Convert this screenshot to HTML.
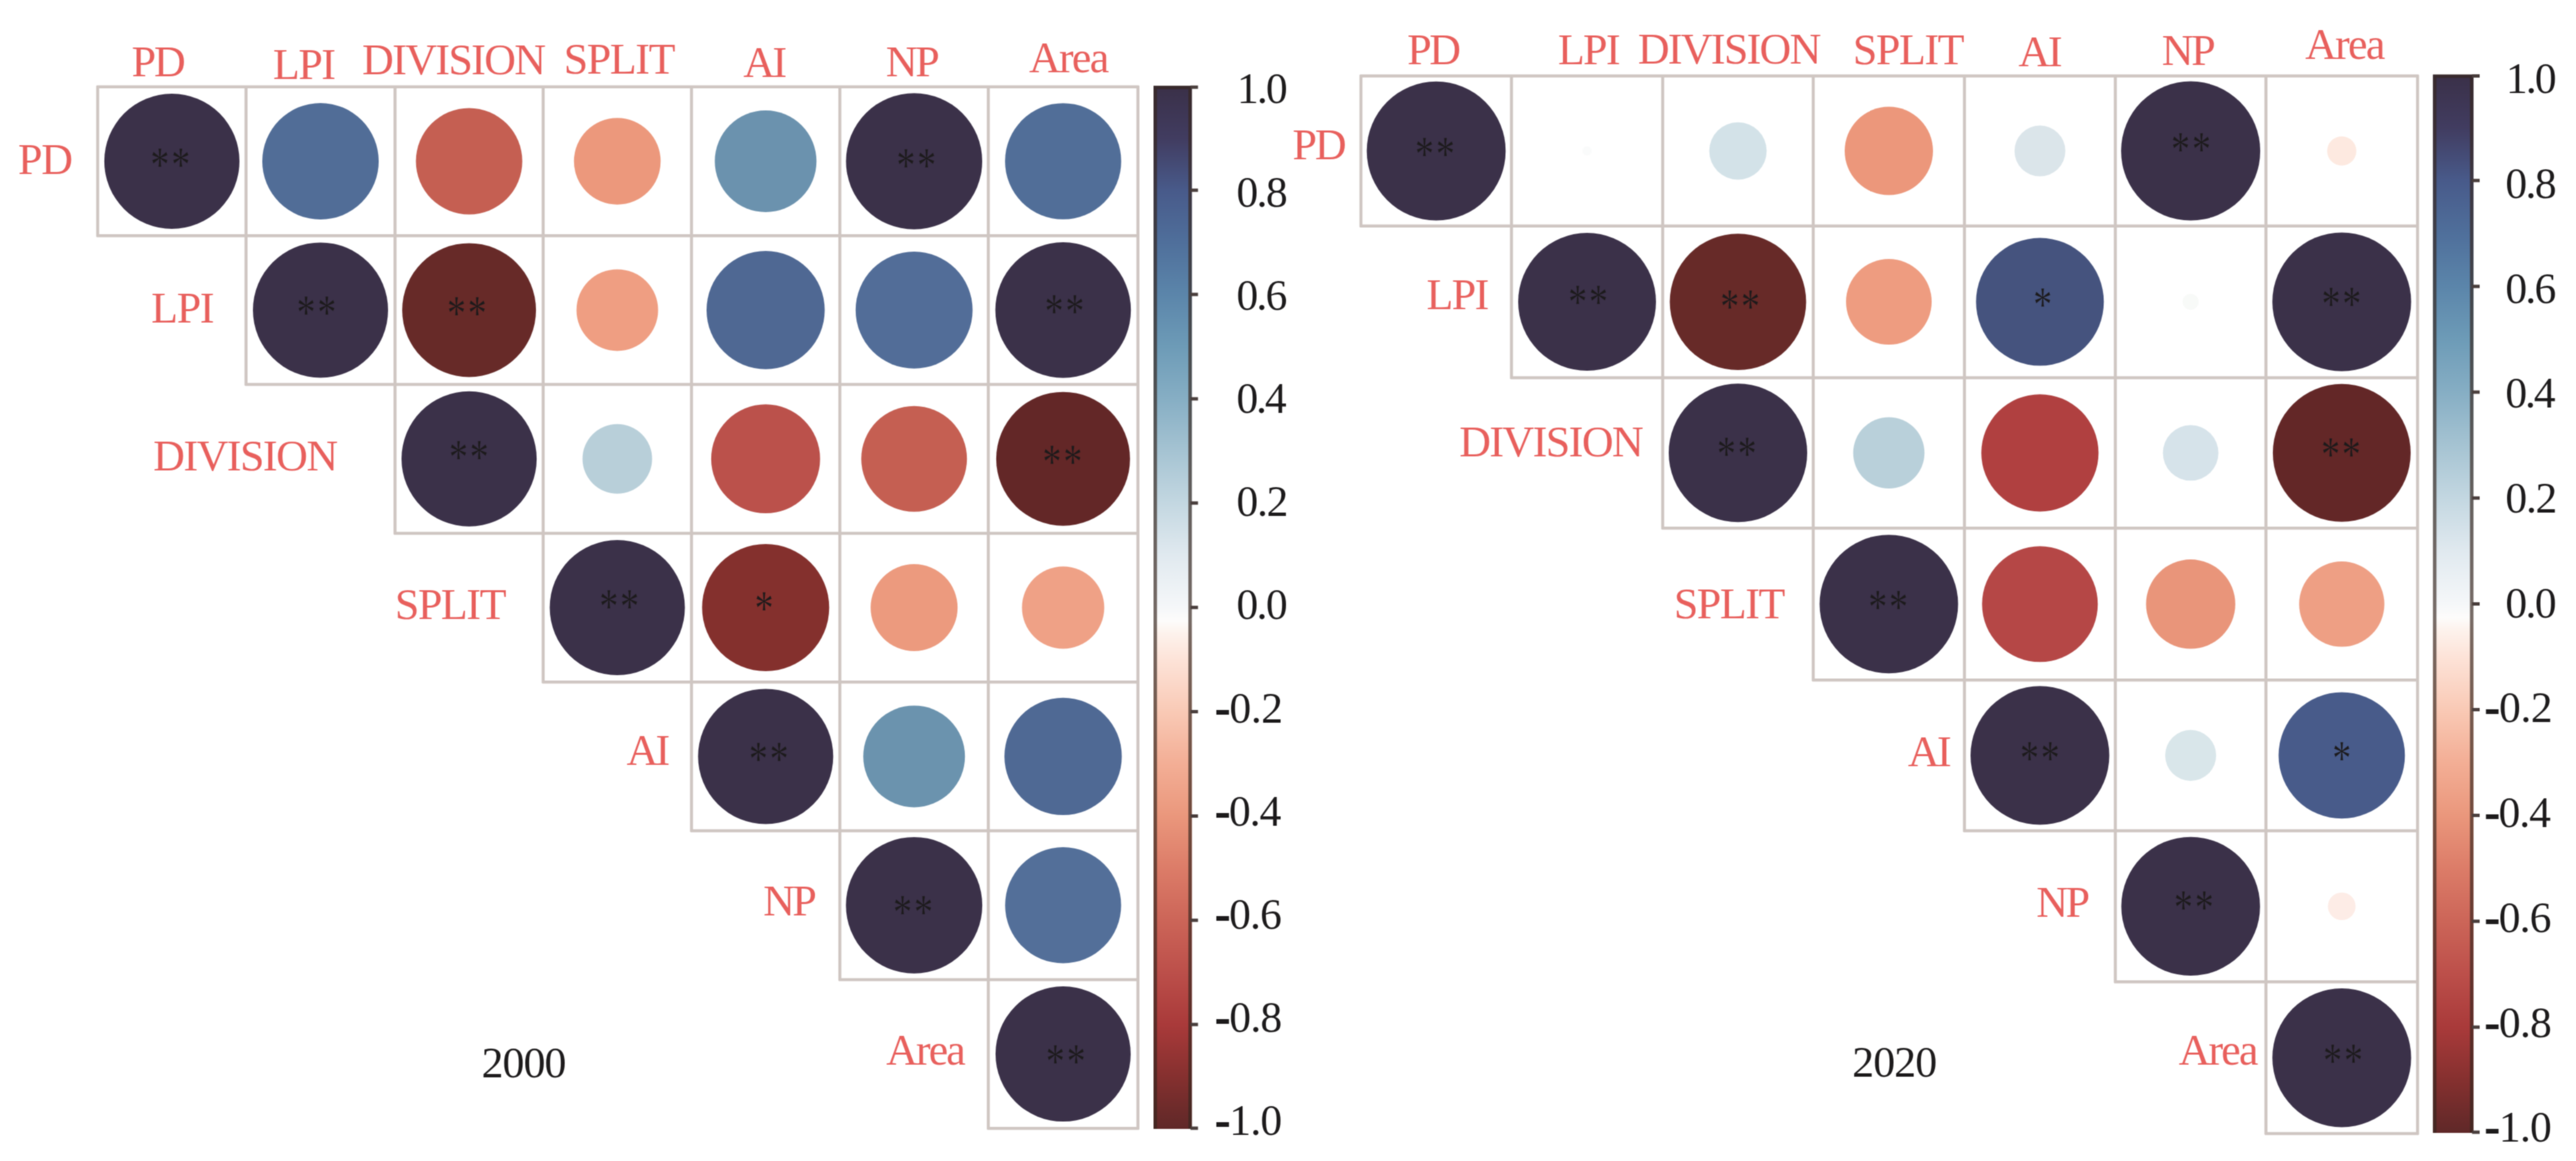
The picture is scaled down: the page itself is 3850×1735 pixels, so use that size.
<!DOCTYPE html>
<html lang="en"><head><meta charset="utf-8"><title>Correlation matrices 2000 / 2020</title>
<style>
html,body{margin:0;padding:0;background:#fff;}
body{width:3850px;height:1735px;overflow:hidden;}
svg{display:block;font-kerning:none;font-family:"Liberation Serif",serif;}
</style></head><body>
<svg width="3850" height="1735" viewBox="0 0 3850 1735">
<defs><linearGradient id="cb" x1="0" y1="0" x2="0" y2="1"><stop offset="0%" stop-color="#3a3048"/><stop offset="5%" stop-color="#413c60"/><stop offset="10%" stop-color="#485a8a"/><stop offset="15%" stop-color="#4f6f9b"/><stop offset="20%" stop-color="#5b85aa"/><stop offset="25%" stop-color="#6d9bb7"/><stop offset="30%" stop-color="#86aec4"/><stop offset="35%" stop-color="#a5c3d2"/><stop offset="40%" stop-color="#c3d7e1"/><stop offset="45%" stop-color="#e0e9ef"/><stop offset="50%" stop-color="#f5f7f9"/><stop offset="51.3%" stop-color="#fdfcfb"/><stop offset="52.5%" stop-color="#fdf2ec"/><stop offset="55%" stop-color="#fde3d8"/><stop offset="60%" stop-color="#f9c9b5"/><stop offset="65%" stop-color="#f3ae95"/><stop offset="70%" stop-color="#ea977c"/><stop offset="75%" stop-color="#dc7c68"/><stop offset="80%" stop-color="#cc6558"/><stop offset="85%" stop-color="#bc4f4a"/><stop offset="90%" stop-color="#a93a3a"/><stop offset="95%" stop-color="#85302f"/><stop offset="100%" stop-color="#5f2828"/></linearGradient><filter id="soft" filterUnits="userSpaceOnUse" x="0" y="0" width="3850" height="1735" color-interpolation-filters="sRGB"><feConvolveMatrix order="3" kernelMatrix="1 2 1 2 4 2 1 2 1" divisor="16" edgeMode="duplicate" preserveAlpha="true"/></filter></defs>
<g filter="url(#soft)">
<rect width="3850" height="1735" fill="#fff"/>
<path d="M144.5 129.8H1702.2M144.5 352.2H1702.2M366.2 574.5H1702.2M588.9 796.9H1702.2M810.3 1019.2H1702.2M1032.0 1241.6H1702.2M1253.7 1463.9H1702.2M1475.6 1686.3H1702.2M146.0 128.3V353.7M367.7 128.3V576.0M590.4 128.3V798.4M811.8 128.3V1020.7M1033.5 128.3V1243.1M1255.2 128.3V1465.4M1477.1 128.3V1687.8M1700.7 128.3V1687.8" fill="none" stroke="#cfc6c2" stroke-width="4.5"/>
<circle cx="256.9" cy="241.0" r="101" fill="#3b3149"/>
<text transform="translate(238.9 236.7) scale(0.9 1.17)" x="-15.75" y="29.7" font-size="63" fill="#1c1a1b" stroke="#3b3149" stroke-width="0.5">*</text>
<text transform="translate(270.1 236.7) scale(0.9 1.17)" x="-15.75" y="29.7" font-size="63" fill="#1c1a1b" stroke="#3b3149" stroke-width="0.5">*</text>
<circle cx="479.0" cy="241.0" r="87" fill="#516d97"/>
<circle cx="701.1" cy="241.0" r="79.5" fill="#c55f52"/>
<circle cx="922.6" cy="241.0" r="64.8" fill="#ec987c"/>
<circle cx="1144.3" cy="241.0" r="76" fill="#6b92ae"/>
<circle cx="1366.2" cy="241.0" r="101.8" fill="#3b3149"/>
<text transform="translate(1354.0 237.0) scale(0.9 1.17)" x="-15.75" y="29.7" font-size="63" fill="#1c1a1b" stroke="#3b3149" stroke-width="0.5">*</text>
<text transform="translate(1385.0 237.0) scale(0.9 1.17)" x="-15.75" y="29.7" font-size="63" fill="#1c1a1b" stroke="#3b3149" stroke-width="0.5">*</text>
<circle cx="1588.9" cy="241.0" r="86.8" fill="#516e98"/>
<circle cx="479.0" cy="463.4" r="101" fill="#3b3149"/>
<text transform="translate(457.3 456.8) scale(0.9 1.17)" x="-15.75" y="29.7" font-size="63" fill="#1c1a1b" stroke="#3b3149" stroke-width="0.5">*</text>
<text transform="translate(488.4 456.8) scale(0.9 1.17)" x="-15.75" y="29.7" font-size="63" fill="#1c1a1b" stroke="#3b3149" stroke-width="0.5">*</text>
<circle cx="701.1" cy="463.4" r="100" fill="#672a28"/>
<text transform="translate(682.2 457.9) scale(0.9 1.17)" x="-15.75" y="29.7" font-size="63" fill="#1c1a1b" stroke="#672a28" stroke-width="0.5">*</text>
<text transform="translate(713.2 457.9) scale(0.9 1.17)" x="-15.75" y="29.7" font-size="63" fill="#1c1a1b" stroke="#672a28" stroke-width="0.5">*</text>
<circle cx="922.6" cy="463.4" r="61" fill="#ef9e82"/>
<circle cx="1144.3" cy="463.4" r="88.3" fill="#4f6893"/>
<circle cx="1366.2" cy="463.4" r="87.4" fill="#526d98"/>
<circle cx="1588.9" cy="463.4" r="101.3" fill="#3b3149"/>
<text transform="translate(1575.5 455.0) scale(0.9 1.17)" x="-15.75" y="29.7" font-size="63" fill="#1c1a1b" stroke="#3b3149" stroke-width="0.5">*</text>
<text transform="translate(1606.5 455.0) scale(0.9 1.17)" x="-15.75" y="29.7" font-size="63" fill="#1c1a1b" stroke="#3b3149" stroke-width="0.5">*</text>
<circle cx="701.1" cy="685.7" r="101" fill="#3b3149"/>
<text transform="translate(685.2 673.6) scale(0.9 1.17)" x="-15.75" y="29.7" font-size="63" fill="#1c1a1b" stroke="#3b3149" stroke-width="0.5">*</text>
<text transform="translate(716.2 673.6) scale(0.9 1.17)" x="-15.75" y="29.7" font-size="63" fill="#1c1a1b" stroke="#3b3149" stroke-width="0.5">*</text>
<circle cx="922.6" cy="685.7" r="52" fill="#b8cfd9"/>
<circle cx="1144.3" cy="685.7" r="81.4" fill="#bb514b"/>
<circle cx="1366.2" cy="685.7" r="79" fill="#c55f52"/>
<circle cx="1588.9" cy="685.7" r="100" fill="#632727"/>
<text transform="translate(1572.2 680.0) scale(0.9 1.17)" x="-15.75" y="29.7" font-size="63" fill="#1c1a1b" stroke="#632727" stroke-width="0.5">*</text>
<text transform="translate(1603.3 680.0) scale(0.9 1.17)" x="-15.75" y="29.7" font-size="63" fill="#1c1a1b" stroke="#632727" stroke-width="0.5">*</text>
<circle cx="922.6" cy="908.0" r="101" fill="#3b3149"/>
<text transform="translate(910.0 896.7) scale(0.9 1.17)" x="-15.75" y="29.7" font-size="63" fill="#1c1a1b" stroke="#3b3149" stroke-width="0.5">*</text>
<text transform="translate(941.0 896.7) scale(0.9 1.17)" x="-15.75" y="29.7" font-size="63" fill="#1c1a1b" stroke="#3b3149" stroke-width="0.5">*</text>
<circle cx="1144.3" cy="908.0" r="95" fill="#84302d"/>
<text transform="translate(1142.0 899.4) scale(0.9 1.17)" x="-15.75" y="29.7" font-size="63" fill="#1c1a1b" stroke="#84302d" stroke-width="0.5">*</text>
<circle cx="1366.2" cy="908.0" r="65" fill="#ec9a7e"/>
<circle cx="1588.9" cy="908.0" r="61.5" fill="#efa186"/>
<circle cx="1144.3" cy="1130.4" r="101" fill="#3b3149"/>
<text transform="translate(1133.5 1124.6) scale(0.9 1.17)" x="-15.75" y="29.7" font-size="63" fill="#1c1a1b" stroke="#3b3149" stroke-width="0.5">*</text>
<text transform="translate(1164.5 1124.6) scale(0.9 1.17)" x="-15.75" y="29.7" font-size="63" fill="#1c1a1b" stroke="#3b3149" stroke-width="0.5">*</text>
<circle cx="1366.2" cy="1130.4" r="76" fill="#6b93ae"/>
<circle cx="1588.9" cy="1130.4" r="87.7" fill="#4f6994"/>
<circle cx="1366.2" cy="1352.8" r="101.9" fill="#3b3149"/>
<text transform="translate(1349.0 1353.7) scale(0.9 1.17)" x="-15.75" y="29.7" font-size="63" fill="#1c1a1b" stroke="#3b3149" stroke-width="0.5">*</text>
<text transform="translate(1380.1 1353.7) scale(0.9 1.17)" x="-15.75" y="29.7" font-size="63" fill="#1c1a1b" stroke="#3b3149" stroke-width="0.5">*</text>
<circle cx="1588.9" cy="1352.8" r="86.7" fill="#536f99"/>
<circle cx="1588.9" cy="1575.1" r="101" fill="#3b3149"/>
<text transform="translate(1577.2 1576.3) scale(0.9 1.17)" x="-15.75" y="29.7" font-size="63" fill="#1c1a1b" stroke="#3b3149" stroke-width="0.5">*</text>
<text transform="translate(1608.3 1576.3) scale(0.9 1.17)" x="-15.75" y="29.7" font-size="63" fill="#1c1a1b" stroke="#3b3149" stroke-width="0.5">*</text>
<text x="196.7" y="113.7" font-size="65.5" letter-spacing="-2.85" fill="#e85f5c">PD</text>
<text x="408.0" y="117.8" font-size="65.5" letter-spacing="-2.08" fill="#e85f5c">LPI</text>
<text x="541.3" y="111.0" font-size="65.5" letter-spacing="-2.34" fill="#e85f5c">DIVISION</text>
<text x="842.5" y="110.3" font-size="65.5" letter-spacing="-1.93" fill="#e85f5c">SPLIT</text>
<text x="1111.0" y="115.0" font-size="65.5" letter-spacing="-3.85" fill="#e85f5c">AI</text>
<text x="1324.0" y="114.0" font-size="65.5" letter-spacing="-3.25" fill="#e85f5c">NP</text>
<text x="1538.0" y="107.5" font-size="65.5" letter-spacing="-2.50" fill="#e85f5c">Area</text>
<text x="27.1" y="260.0" font-size="65.5" letter-spacing="-1.75" fill="#e85f5c">PD</text>
<text x="226.1" y="481.7" font-size="65.5" letter-spacing="-1.83" fill="#e85f5c">LPI</text>
<text x="229.0" y="703.1" font-size="65.5" letter-spacing="-2.11" fill="#e85f5c">DIVISION</text>
<text x="590.2" y="925.1" font-size="65.5" letter-spacing="-1.98" fill="#e85f5c">SPLIT</text>
<text x="936.5" y="1142.9" font-size="65.5" letter-spacing="-4.00" fill="#e85f5c">AI</text>
<text x="1140.7" y="1368.2" font-size="65.5" letter-spacing="-3.85" fill="#e85f5c">NP</text>
<text x="1324.5" y="1590.9" font-size="65.5" letter-spacing="-2.83" fill="#e85f5c">Area</text>
<text x="719.7" y="1610.1" font-size="65.5" letter-spacing="-1.36" fill="#1c1a1b">2000</text>
<rect x="1724" y="128.4" width="57.299999999999955" height="1558.6" fill="url(#cb)"/>
<path d="M1726.6 1687V130.6H1778.7V1687" fill="none" stroke="#36261f" stroke-opacity="0.68" stroke-width="5.2"/>
<path d="M1779.3 130.2H1790.5M1779.3 284.3H1790.5M1779.3 440.1H1790.5M1779.3 596.0H1790.5M1779.3 751.8H1790.5M1779.3 907.7H1790.5M1779.3 1063.6H1790.5M1779.3 1219.4H1790.5M1779.3 1375.3H1790.5M1779.3 1531.1H1790.5M1779.3 1686.0H1790.5" stroke="#493e3c" stroke-width="5" fill="none"/>
<text x="1848.8" y="154.3" font-size="65" letter-spacing="-2.81" fill="#1c1a1b">1.0</text>
<text x="1848.0" y="308.5" font-size="65" letter-spacing="-2.42" fill="#1c1a1b">0.8</text>
<text x="1848.0" y="462.7" font-size="65" letter-spacing="-2.68" fill="#1c1a1b">0.6</text>
<text x="1848.0" y="616.9" font-size="65" letter-spacing="-3.13" fill="#1c1a1b">0.4</text>
<text x="1848.0" y="771.1" font-size="65" letter-spacing="-1.84" fill="#1c1a1b">0.2</text>
<text x="1848.0" y="925.3" font-size="65" letter-spacing="-2.42" fill="#1c1a1b">0.0</text>
<text x="1816.5" y="1079.5" font-size="65" letter-spacing="-0.62" fill="#1c1a1b"><tspan stroke="#1c1a1b" stroke-width="2">-</tspan>0.2</text>
<text x="1816.5" y="1233.7" font-size="65" letter-spacing="-1.48" fill="#1c1a1b"><tspan stroke="#1c1a1b" stroke-width="2">-</tspan>0.4</text>
<text x="1816.5" y="1387.9" font-size="65" letter-spacing="-1.18" fill="#1c1a1b"><tspan stroke="#1c1a1b" stroke-width="2">-</tspan>0.6</text>
<text x="1816.5" y="1542.1" font-size="65" letter-spacing="-1.01" fill="#1c1a1b"><tspan stroke="#1c1a1b" stroke-width="2">-</tspan>0.8</text>
<text x="1816.5" y="1696.3" font-size="65" letter-spacing="-1.01" fill="#1c1a1b"><tspan stroke="#1c1a1b" stroke-width="2">-</tspan>1.0</text>
<path d="M2032.5 113.4H3614.7M2032.5 337.8H3614.7M2257.5 564.4H3614.7M2483.5 789.3H3614.7M2708.5 1016.3H3614.7M2934.5 1241.5H3614.7M3160.0 1467.3H3614.7M3385.1 1694.0H3614.7M2034.0 111.9V339.3M2259.0 111.9V565.9M2485.0 111.9V790.8M2710.0 111.9V1017.8M2936.0 111.9V1243.0M3161.5 111.9V1468.8M3386.6 111.9V1695.5M3613.2 111.9V1695.5" fill="none" stroke="#cfc6c2" stroke-width="4.5"/>
<circle cx="2146.5" cy="225.6" r="103.8" fill="#3b3149"/>
<text transform="translate(2129.0 220.7) scale(0.9 1.17)" x="-15.75" y="29.7" font-size="63" fill="#1c1a1b" stroke="#3b3149" stroke-width="0.5">*</text>
<text transform="translate(2160.2 220.7) scale(0.9 1.17)" x="-15.75" y="29.7" font-size="63" fill="#1c1a1b" stroke="#3b3149" stroke-width="0.5">*</text>
<circle cx="2372.0" cy="225.6" r="7" fill="#fafbfb"/>
<circle cx="2597.5" cy="225.6" r="42.9" fill="#d3e2e8"/>
<circle cx="2823.0" cy="225.6" r="66" fill="#ec977b"/>
<circle cx="3048.8" cy="225.6" r="38" fill="#dbe5ea"/>
<circle cx="3274.1" cy="225.6" r="104" fill="#3b3149"/>
<text transform="translate(3259.0 213.7) scale(0.9 1.17)" x="-15.75" y="29.7" font-size="63" fill="#1c1a1b" stroke="#3b3149" stroke-width="0.5">*</text>
<text transform="translate(3290.2 213.7) scale(0.9 1.17)" x="-15.75" y="29.7" font-size="63" fill="#1c1a1b" stroke="#3b3149" stroke-width="0.5">*</text>
<circle cx="3499.9" cy="225.6" r="21.8" fill="#fde9e0"/>
<circle cx="2372.0" cy="451.1" r="103" fill="#3b3149"/>
<text transform="translate(2357.8 441.0) scale(0.9 1.17)" x="-15.75" y="29.7" font-size="63" fill="#1c1a1b" stroke="#3b3149" stroke-width="0.5">*</text>
<text transform="translate(2388.9 441.0) scale(0.9 1.17)" x="-15.75" y="29.7" font-size="63" fill="#1c1a1b" stroke="#3b3149" stroke-width="0.5">*</text>
<circle cx="2597.5" cy="451.1" r="101.9" fill="#672a28"/>
<text transform="translate(2585.1 448.1) scale(0.9 1.17)" x="-15.75" y="29.7" font-size="63" fill="#1c1a1b" stroke="#672a28" stroke-width="0.5">*</text>
<text transform="translate(2616.2 448.1) scale(0.9 1.17)" x="-15.75" y="29.7" font-size="63" fill="#1c1a1b" stroke="#672a28" stroke-width="0.5">*</text>
<circle cx="2823.0" cy="451.1" r="64" fill="#ee9c80"/>
<circle cx="3048.8" cy="451.1" r="95.5" fill="#45537e"/>
<text transform="translate(3052.8 445.6) scale(0.9 1.17)" x="-15.75" y="29.7" font-size="63" fill="#1c1a1b" stroke="#45537e" stroke-width="0.5">*</text>
<circle cx="3274.1" cy="451.1" r="12" fill="#f8faf8"/>
<circle cx="3499.9" cy="451.1" r="103.7" fill="#3b3149"/>
<text transform="translate(3483.8 444.6) scale(0.9 1.17)" x="-15.75" y="29.7" font-size="63" fill="#1c1a1b" stroke="#3b3149" stroke-width="0.5">*</text>
<text transform="translate(3515.0 444.6) scale(0.9 1.17)" x="-15.75" y="29.7" font-size="63" fill="#1c1a1b" stroke="#3b3149" stroke-width="0.5">*</text>
<circle cx="2597.5" cy="676.8" r="103.5" fill="#3b3149"/>
<text transform="translate(2580.1 668.5) scale(0.9 1.17)" x="-15.75" y="29.7" font-size="63" fill="#1c1a1b" stroke="#3b3149" stroke-width="0.5">*</text>
<text transform="translate(2611.2 668.5) scale(0.9 1.17)" x="-15.75" y="29.7" font-size="63" fill="#1c1a1b" stroke="#3b3149" stroke-width="0.5">*</text>
<circle cx="2823.0" cy="676.8" r="53.3" fill="#b9d0da"/>
<circle cx="3048.8" cy="676.8" r="87.6" fill="#b04040"/>
<circle cx="3274.1" cy="676.8" r="41.5" fill="#d6e3ea"/>
<circle cx="3499.9" cy="676.8" r="103" fill="#632727"/>
<text transform="translate(3483.1 669.6) scale(0.9 1.17)" x="-15.75" y="29.7" font-size="63" fill="#1c1a1b" stroke="#632727" stroke-width="0.5">*</text>
<text transform="translate(3514.2 669.6) scale(0.9 1.17)" x="-15.75" y="29.7" font-size="63" fill="#1c1a1b" stroke="#632727" stroke-width="0.5">*</text>
<circle cx="2823.0" cy="902.8" r="103.5" fill="#3b3149"/>
<text transform="translate(2806.3 897.0) scale(0.9 1.17)" x="-15.75" y="29.7" font-size="63" fill="#1c1a1b" stroke="#3b3149" stroke-width="0.5">*</text>
<text transform="translate(2837.5 897.0) scale(0.9 1.17)" x="-15.75" y="29.7" font-size="63" fill="#1c1a1b" stroke="#3b3149" stroke-width="0.5">*</text>
<circle cx="3048.8" cy="902.8" r="86.5" fill="#b54746"/>
<circle cx="3274.1" cy="902.8" r="66.7" fill="#e9957a"/>
<circle cx="3499.9" cy="902.8" r="63.7" fill="#ee9f84"/>
<circle cx="3048.8" cy="1128.9" r="103.7" fill="#3b3149"/>
<text transform="translate(3033.1 1123.3) scale(0.9 1.17)" x="-15.75" y="29.7" font-size="63" fill="#1c1a1b" stroke="#3b3149" stroke-width="0.5">*</text>
<text transform="translate(3064.2 1123.3) scale(0.9 1.17)" x="-15.75" y="29.7" font-size="63" fill="#1c1a1b" stroke="#3b3149" stroke-width="0.5">*</text>
<circle cx="3274.1" cy="1128.9" r="38.1" fill="#d9e6ea"/>
<circle cx="3499.9" cy="1128.9" r="94.4" fill="#485b8a"/>
<text transform="translate(3500.0 1122.8) scale(0.9 1.17)" x="-15.75" y="29.7" font-size="63" fill="#1c1a1b" stroke="#485b8a" stroke-width="0.5">*</text>
<circle cx="3274.1" cy="1354.4" r="103.7" fill="#3b3149"/>
<text transform="translate(3263.2 1346.3) scale(0.9 1.17)" x="-15.75" y="29.7" font-size="63" fill="#1c1a1b" stroke="#3b3149" stroke-width="0.5">*</text>
<text transform="translate(3294.4 1346.3) scale(0.9 1.17)" x="-15.75" y="29.7" font-size="63" fill="#1c1a1b" stroke="#3b3149" stroke-width="0.5">*</text>
<circle cx="3499.9" cy="1354.4" r="20.7" fill="#fdece6"/>
<circle cx="3499.9" cy="1580.7" r="103.7" fill="#3b3149"/>
<text transform="translate(3486.2 1575.5) scale(0.9 1.17)" x="-15.75" y="29.7" font-size="63" fill="#1c1a1b" stroke="#3b3149" stroke-width="0.5">*</text>
<text transform="translate(3517.4 1575.5) scale(0.9 1.17)" x="-15.75" y="29.7" font-size="63" fill="#1c1a1b" stroke="#3b3149" stroke-width="0.5">*</text>
<text x="2103.3" y="95.9" font-size="65.5" letter-spacing="-3.55" fill="#e85f5c">PD</text>
<text x="2328.4" y="95.9" font-size="65.5" letter-spacing="-2.33" fill="#e85f5c">LPI</text>
<text x="2448.0" y="95.1" font-size="65.5" letter-spacing="-2.44" fill="#e85f5c">DIVISION</text>
<text x="2769.2" y="95.6" font-size="65.5" letter-spacing="-1.95" fill="#e85f5c">SPLIT</text>
<text x="3016.7" y="99.3" font-size="65.5" letter-spacing="-3.35" fill="#e85f5c">AI</text>
<text x="3230.9" y="97.0" font-size="65.5" letter-spacing="-3.25" fill="#e85f5c">NP</text>
<text x="3445.2" y="88.1" font-size="65.5" letter-spacing="-2.47" fill="#e85f5c">Area</text>
<text x="1931.7" y="237.6" font-size="65.5" letter-spacing="-2.75" fill="#e85f5c">PD</text>
<text x="2132.0" y="461.5" font-size="65.5" letter-spacing="-2.23" fill="#e85f5c">LPI</text>
<text x="2180.9" y="681.9" font-size="65.5" letter-spacing="-2.20" fill="#e85f5c">DIVISION</text>
<text x="2501.7" y="923.8" font-size="65.5" letter-spacing="-2.05" fill="#e85f5c">SPLIT</text>
<text x="2851.6" y="1144.8" font-size="65.5" letter-spacing="-4.00" fill="#e85f5c">AI</text>
<text x="3043.4" y="1369.6" font-size="65.5" letter-spacing="-3.45" fill="#e85f5c">NP</text>
<text x="3256.2" y="1590.7" font-size="65.5" letter-spacing="-2.73" fill="#e85f5c">Area</text>
<text x="2768.2" y="1609.2" font-size="65.5" letter-spacing="-1.29" fill="#1c1a1b">2020</text>
<rect x="3636.2" y="111.7" width="60.5" height="1581.3" fill="url(#cb)"/>
<path d="M3638.7999999999997 1693V113.9H3694.1V1693" fill="none" stroke="#36261f" stroke-opacity="0.68" stroke-width="5.2"/>
<path d="M3694.7 113.5H3706M3694.7 269.8H3706M3694.7 428.0H3706M3694.7 586.1H3706M3694.7 744.2H3706M3694.7 902.4H3706M3694.7 1060.5H3706M3694.7 1218.6H3706M3694.7 1376.7H3706M3694.7 1534.9H3706M3694.7 1692.0H3706" stroke="#493e3c" stroke-width="5" fill="none"/>
<text x="3745.3" y="139.2" font-size="65" letter-spacing="-2.81" fill="#1c1a1b">1.0</text>
<text x="3744.5" y="295.9" font-size="65" letter-spacing="-2.42" fill="#1c1a1b">0.8</text>
<text x="3744.5" y="452.6" font-size="65" letter-spacing="-2.68" fill="#1c1a1b">0.6</text>
<text x="3744.5" y="609.3" font-size="65" letter-spacing="-3.13" fill="#1c1a1b">0.4</text>
<text x="3744.5" y="766.0" font-size="65" letter-spacing="-1.84" fill="#1c1a1b">0.2</text>
<text x="3744.5" y="922.7" font-size="65" letter-spacing="-2.42" fill="#1c1a1b">0.0</text>
<text x="3714.0" y="1079.4" font-size="65" letter-spacing="-0.62" fill="#1c1a1b"><tspan stroke="#1c1a1b" stroke-width="2">-</tspan>0.2</text>
<text x="3714.0" y="1236.1" font-size="65" letter-spacing="-1.48" fill="#1c1a1b"><tspan stroke="#1c1a1b" stroke-width="2">-</tspan>0.4</text>
<text x="3714.0" y="1392.8" font-size="65" letter-spacing="-1.18" fill="#1c1a1b"><tspan stroke="#1c1a1b" stroke-width="2">-</tspan>0.6</text>
<text x="3714.0" y="1549.5" font-size="65" letter-spacing="-1.01" fill="#1c1a1b"><tspan stroke="#1c1a1b" stroke-width="2">-</tspan>0.8</text>
<text x="3714.0" y="1706.2" font-size="65" letter-spacing="-1.01" fill="#1c1a1b"><tspan stroke="#1c1a1b" stroke-width="2">-</tspan>1.0</text>
</g>
</svg>
</body></html>
